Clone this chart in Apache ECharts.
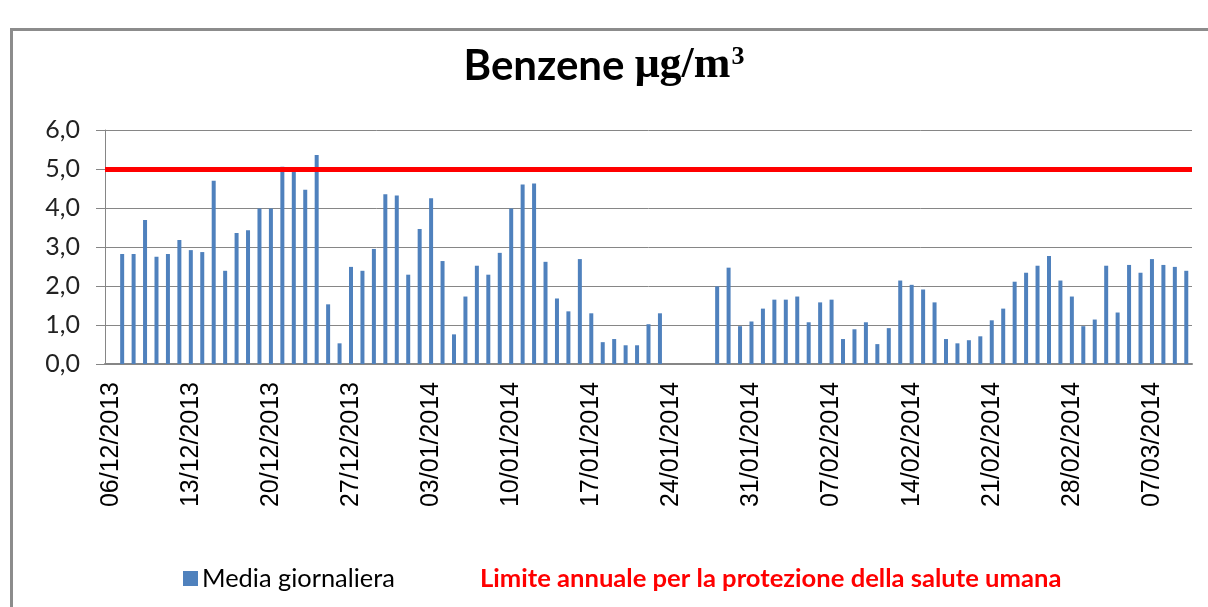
<!DOCTYPE html>
<html>
<head>
<meta charset="utf-8">
<script src="https://cdn.jsdelivr.net/npm/echarts@6/dist/echarts.min.js"></script>
<style>
  html, body { margin: 0; padding: 0; background: #fff; overflow: hidden; }
  #chart { width: 1208px; height: 607px; }
</style>
</head>
<body>
<div id="chart"></div>
<script>
// giorni dal 06/12/2013 al 10/03/2014
var startDate = [2013, 11, 6];
var dayCount = 95;

// media giornaliera benzene (µg/m3), null = dato mancante
var mediaGiornaliera = [
  null, 2.82, 2.82, 3.69, 2.75, 2.82, 3.18, 2.92, 2.87, 4.70,
  2.39, 3.36, 3.43, 3.99, 3.99, 5.06, 4.93, 4.47, 5.36, 1.53,
  0.53, 2.49, 2.39, 2.95, 4.35, 4.32, 2.29, 3.46, 4.25, 2.64,
  0.76, 1.73, 2.52, 2.29, 2.85, 3.99, 4.60, 4.63, 2.62, 1.68,
  1.35, 2.69, 1.30, 0.56, 0.64, 0.48, 0.48, 1.02, 1.30, null,
  null, null, null, 1.99, 2.47, 0.97, 1.09, 1.42, 1.65, 1.65,
  1.73, 1.07, 1.58, 1.65, 0.64, 0.89, 1.07, 0.51, 0.92, 2.14,
  2.03, 1.91, 1.58, 0.64, 0.53, 0.61, 0.71, 1.12, 1.42, 2.11,
  2.34, 2.52, 2.77, 2.14, 1.73, 0.97, 1.14, 2.52, 1.32, 2.54,
  2.34, 2.69, 2.54, 2.49, 2.39
];

// limite annuale
var limiteAnnuale = 5.0;

var nomeMedia = 'Media giornaliera';
var nomeLimite = 'Limite annuale per la protezione della salute umana';

function pad(n) { return (n < 10 ? '0' : '') + n; }

var giorni = [];
for (var i = 0; i < dayCount; i++) {
  var d = new Date(startDate[0], startDate[1], startDate[2] + i);
  giorni.push(pad(d.getDate()) + '/' + pad(d.getMonth() + 1) + '/' + d.getFullYear());
}

var myChart = echarts.init(document.getElementById('chart'));

myChart.setOption({
  animation: false,
  title: {
    left: 'center',
    top: 39,
    text: '{a|Benzene }{b|μg/m}{c|3}',
    textStyle: {
      rich: {
        a: { fontFamily: 'Lato', fontWeight: 'bold', fontSize: 42, color: '#000' },
        b: { fontFamily: 'Liberation Serif', fontWeight: 'bold', fontSize: 44, color: '#000' },
        c: { fontFamily: 'Liberation Serif', fontWeight: 'bold', fontSize: 26, color: '#000', padding: [0, 0, 18, 1] }
      }
    }
  },
  graphic: [
    {
      // cornice: lato sinistro e superiore
      type: 'line',
      silent: true,
      shape: { x1: 11.5, y1: 29.5, x2: 11.5, y2: 607 },
      style: { stroke: '#8c8c8c', lineWidth: 3 }
    },
    {
      type: 'line',
      silent: true,
      shape: { x1: 10, y1: 29.5, x2: 1208, y2: 29.5 },
      style: { stroke: '#8c8c8c', lineWidth: 3 }
    }
  ],
  legend: [
    {
      left: 178,
      top: 561,
      itemWidth: 15,
      itemHeight: 15,
      itemGap: 6,
      data: [{ name: nomeMedia, icon: 'rect' }],
      textStyle: { fontFamily: 'Lato', fontSize: 25.4, color: '#000', padding: [0, 0, 0, -1] }
    },
    {
      left: 462,
      top: 561,
      itemWidth: 8,
      itemHeight: 14,
      data: [{
        name: nomeLimite,
        icon: 'rect',
        itemStyle: { color: 'rgba(0,0,0,0)', borderWidth: 0 }
      }],
      textStyle: { fontFamily: 'Lato', fontWeight: 'bold', fontSize: 25.6, color: '#ff0000' }
    }
  ],
  grid: {
    left: 105,
    right: 16,
    top: 130,
    bottom: 243,
    containLabel: false
  },
  xAxis: {
    type: 'category',
    data: giorni,
    boundaryGap: true,
    axisLine: { lineStyle: { color: '#868686', width: 2 } },
    axisTick: { interval: 6, length: 6, lineStyle: { color: '#868686', width: 2 } },
    axisLabel: {
      interval: 6,
      rotate: 90,
      margin: 18,
      fontFamily: 'Liberation Sans',
      fontSize: 25,
      color: '#000'
    },
    splitLine: { show: false }
  },
  yAxis: {
    type: 'value',
    min: 0,
    max: 6,
    interval: 1,
    axisLine: { show: true, lineStyle: { color: '#868686', width: 1 } },
    axisTick: { show: true, length: 9, lineStyle: { color: '#868686' } },
    axisLabel: {
      margin: 25,
      fontFamily: 'Lato',
      fontSize: 25,
      color: '#222',
      formatter: function (v) { return v.toFixed(1).replace('.', ','); }
    },
    splitLine: { lineStyle: { color: '#868686', width: 1 } }
  },
  series: [
    {
      name: nomeMedia,
      type: 'bar',
      data: mediaGiornaliera,
      barWidth: 4,
      itemStyle: { color: '#4f81bd' }
    },
    {
      name: nomeLimite,
      type: 'line',
      data: [],
      itemStyle: { color: '#ff0000' },
      lineStyle: { color: '#ff0000', width: 5 },
      markLine: {
        silent: true,
        symbol: 'none',
        label: { show: false },
        lineStyle: { color: '#ff0000', width: 5, type: 'solid' },
        data: [{ yAxis: limiteAnnuale }]
      }
    }
  ]
});
</script>
</body>
</html>
